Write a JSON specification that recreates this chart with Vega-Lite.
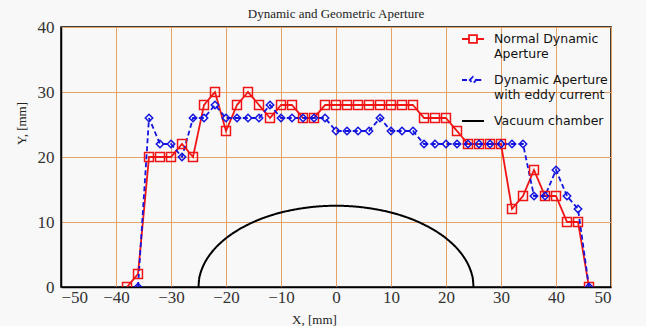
{
  "$schema": "https://vega.github.io/schema/vega-lite/v6.json",
  "width": 550,
  "height": 260,
  "autosize": "none",
  "padding": {"left": 61, "top": 27, "right": 35, "bottom": 39},
  "background": "#f8f8f8",
  "title": {"text": "Dynamic and Geometric Aperture", "font": "Liberation Serif", "fontSize": 13, "fontWeight": "normal", "color": "#222", "offset": -3, "anchor": "middle"},
  "config": {
    "view": {"stroke": "#000", "strokeWidth": 1.5, "fill": "#f8f8f8"},
    "axis": {"gridColor": "#e6a264", "gridWidth": 1, "gridOpacity": 1, "ticks": false, "domainColor": "#000", "domainWidth": 1.5, "labelFont": "Liberation Serif", "labelFontSize": 17, "labelColor": "#333", "titleFont": "Liberation Serif", "titleFontSize": 13, "titleFontWeight": "normal", "titleColor": "#222"}
  },
  "data": {"values": [
    {"series": "Normal Dynamic Aperture", "x": -38, "y": 0},
    {"series": "Normal Dynamic Aperture", "x": -36, "y": 2},
    {"series": "Normal Dynamic Aperture", "x": -34, "y": 20},
    {"series": "Normal Dynamic Aperture", "x": -32, "y": 20},
    {"series": "Normal Dynamic Aperture", "x": -30, "y": 20},
    {"series": "Normal Dynamic Aperture", "x": -28, "y": 22},
    {"series": "Normal Dynamic Aperture", "x": -26, "y": 20},
    {"series": "Normal Dynamic Aperture", "x": -24, "y": 28},
    {"series": "Normal Dynamic Aperture", "x": -22, "y": 30},
    {"series": "Normal Dynamic Aperture", "x": -20, "y": 24},
    {"series": "Normal Dynamic Aperture", "x": -18, "y": 28},
    {"series": "Normal Dynamic Aperture", "x": -16, "y": 30},
    {"series": "Normal Dynamic Aperture", "x": -14, "y": 28},
    {"series": "Normal Dynamic Aperture", "x": -12, "y": 26},
    {"series": "Normal Dynamic Aperture", "x": -10, "y": 28},
    {"series": "Normal Dynamic Aperture", "x": -8, "y": 28},
    {"series": "Normal Dynamic Aperture", "x": -6, "y": 26},
    {"series": "Normal Dynamic Aperture", "x": -4, "y": 26},
    {"series": "Normal Dynamic Aperture", "x": -2, "y": 28},
    {"series": "Normal Dynamic Aperture", "x": 0, "y": 28},
    {"series": "Normal Dynamic Aperture", "x": 2, "y": 28},
    {"series": "Normal Dynamic Aperture", "x": 4, "y": 28},
    {"series": "Normal Dynamic Aperture", "x": 6, "y": 28},
    {"series": "Normal Dynamic Aperture", "x": 8, "y": 28},
    {"series": "Normal Dynamic Aperture", "x": 10, "y": 28},
    {"series": "Normal Dynamic Aperture", "x": 12, "y": 28},
    {"series": "Normal Dynamic Aperture", "x": 14, "y": 28},
    {"series": "Normal Dynamic Aperture", "x": 16, "y": 26},
    {"series": "Normal Dynamic Aperture", "x": 18, "y": 26},
    {"series": "Normal Dynamic Aperture", "x": 20, "y": 26},
    {"series": "Normal Dynamic Aperture", "x": 22, "y": 24},
    {"series": "Normal Dynamic Aperture", "x": 24, "y": 22},
    {"series": "Normal Dynamic Aperture", "x": 26, "y": 22},
    {"series": "Normal Dynamic Aperture", "x": 28, "y": 22},
    {"series": "Normal Dynamic Aperture", "x": 30, "y": 22},
    {"series": "Normal Dynamic Aperture", "x": 32, "y": 12},
    {"series": "Normal Dynamic Aperture", "x": 34, "y": 14},
    {"series": "Normal Dynamic Aperture", "x": 36, "y": 18},
    {"series": "Normal Dynamic Aperture", "x": 38, "y": 14},
    {"series": "Normal Dynamic Aperture", "x": 40, "y": 14},
    {"series": "Normal Dynamic Aperture", "x": 42, "y": 10},
    {"series": "Normal Dynamic Aperture", "x": 44, "y": 10},
    {"series": "Normal Dynamic Aperture", "x": 46, "y": 0},
    {"series": "Dynamic Aperture with eddy current", "x": -36, "y": 0},
    {"series": "Dynamic Aperture with eddy current", "x": -34, "y": 26},
    {"series": "Dynamic Aperture with eddy current", "x": -32, "y": 22},
    {"series": "Dynamic Aperture with eddy current", "x": -30, "y": 22},
    {"series": "Dynamic Aperture with eddy current", "x": -28, "y": 20},
    {"series": "Dynamic Aperture with eddy current", "x": -26, "y": 26},
    {"series": "Dynamic Aperture with eddy current", "x": -24, "y": 26},
    {"series": "Dynamic Aperture with eddy current", "x": -22, "y": 28},
    {"series": "Dynamic Aperture with eddy current", "x": -20, "y": 26},
    {"series": "Dynamic Aperture with eddy current", "x": -18, "y": 26},
    {"series": "Dynamic Aperture with eddy current", "x": -16, "y": 26},
    {"series": "Dynamic Aperture with eddy current", "x": -14, "y": 26},
    {"series": "Dynamic Aperture with eddy current", "x": -12, "y": 28},
    {"series": "Dynamic Aperture with eddy current", "x": -10, "y": 26},
    {"series": "Dynamic Aperture with eddy current", "x": -8, "y": 26},
    {"series": "Dynamic Aperture with eddy current", "x": -6, "y": 26},
    {"series": "Dynamic Aperture with eddy current", "x": -4, "y": 26},
    {"series": "Dynamic Aperture with eddy current", "x": -2, "y": 26},
    {"series": "Dynamic Aperture with eddy current", "x": 0, "y": 24},
    {"series": "Dynamic Aperture with eddy current", "x": 2, "y": 24},
    {"series": "Dynamic Aperture with eddy current", "x": 4, "y": 24},
    {"series": "Dynamic Aperture with eddy current", "x": 6, "y": 24},
    {"series": "Dynamic Aperture with eddy current", "x": 8, "y": 26},
    {"series": "Dynamic Aperture with eddy current", "x": 10, "y": 24},
    {"series": "Dynamic Aperture with eddy current", "x": 12, "y": 24},
    {"series": "Dynamic Aperture with eddy current", "x": 14, "y": 24},
    {"series": "Dynamic Aperture with eddy current", "x": 16, "y": 22},
    {"series": "Dynamic Aperture with eddy current", "x": 18, "y": 22},
    {"series": "Dynamic Aperture with eddy current", "x": 20, "y": 22},
    {"series": "Dynamic Aperture with eddy current", "x": 22, "y": 22},
    {"series": "Dynamic Aperture with eddy current", "x": 24, "y": 22},
    {"series": "Dynamic Aperture with eddy current", "x": 26, "y": 22},
    {"series": "Dynamic Aperture with eddy current", "x": 28, "y": 22},
    {"series": "Dynamic Aperture with eddy current", "x": 30, "y": 22},
    {"series": "Dynamic Aperture with eddy current", "x": 32, "y": 22},
    {"series": "Dynamic Aperture with eddy current", "x": 34, "y": 22},
    {"series": "Dynamic Aperture with eddy current", "x": 36, "y": 14},
    {"series": "Dynamic Aperture with eddy current", "x": 38, "y": 14},
    {"series": "Dynamic Aperture with eddy current", "x": 40, "y": 18},
    {"series": "Dynamic Aperture with eddy current", "x": 42, "y": 14},
    {"series": "Dynamic Aperture with eddy current", "x": 44, "y": 12},
    {"series": "Dynamic Aperture with eddy current", "x": 46, "y": 0},
    {"series": "Vacuum chamber", "x": -25, "y": 0},
    {"series": "Vacuum chamber", "x": -24.9, "y": 1.12},
    {"series": "Vacuum chamber", "x": -24.7, "y": 1.94},
    {"series": "Vacuum chamber", "x": -24.4, "y": 2.72},
    {"series": "Vacuum chamber", "x": -24, "y": 3.5},
    {"series": "Vacuum chamber", "x": -23, "y": 4.9},
    {"series": "Vacuum chamber", "x": -22, "y": 5.94},
    {"series": "Vacuum chamber", "x": -21, "y": 6.78},
    {"series": "Vacuum chamber", "x": -20, "y": 7.5},
    {"series": "Vacuum chamber", "x": -18, "y": 8.67},
    {"series": "Vacuum chamber", "x": -16, "y": 9.6},
    {"series": "Vacuum chamber", "x": -14, "y": 10.36},
    {"series": "Vacuum chamber", "x": -12, "y": 10.97},
    {"series": "Vacuum chamber", "x": -10, "y": 11.46},
    {"series": "Vacuum chamber", "x": -8, "y": 11.84},
    {"series": "Vacuum chamber", "x": -6, "y": 12.13},
    {"series": "Vacuum chamber", "x": -4, "y": 12.34},
    {"series": "Vacuum chamber", "x": -2, "y": 12.46},
    {"series": "Vacuum chamber", "x": 0, "y": 12.5},
    {"series": "Vacuum chamber", "x": 2, "y": 12.46},
    {"series": "Vacuum chamber", "x": 4, "y": 12.34},
    {"series": "Vacuum chamber", "x": 6, "y": 12.13},
    {"series": "Vacuum chamber", "x": 8, "y": 11.84},
    {"series": "Vacuum chamber", "x": 10, "y": 11.46},
    {"series": "Vacuum chamber", "x": 12, "y": 10.97},
    {"series": "Vacuum chamber", "x": 14, "y": 10.36},
    {"series": "Vacuum chamber", "x": 16, "y": 9.6},
    {"series": "Vacuum chamber", "x": 18, "y": 8.67},
    {"series": "Vacuum chamber", "x": 20, "y": 7.5},
    {"series": "Vacuum chamber", "x": 21, "y": 6.78},
    {"series": "Vacuum chamber", "x": 22, "y": 5.94},
    {"series": "Vacuum chamber", "x": 23, "y": 4.9},
    {"series": "Vacuum chamber", "x": 24, "y": 3.5},
    {"series": "Vacuum chamber", "x": 24.4, "y": 2.72},
    {"series": "Vacuum chamber", "x": 24.7, "y": 1.94},
    {"series": "Vacuum chamber", "x": 24.9, "y": 1.12},
    {"series": "Vacuum chamber", "x": 25, "y": 0}
  ]},
  "encoding": {
    "x": {"field": "x", "type": "quantitative", "scale": {"domain": [-50, 50], "nice": false}, "axis": {"values": [-50, -40, -30, -20, -10, 0, 10, 20, 30, 40, 50], "title": "X, [mm]", "labelPadding": 2, "titleX": 253, "titleY": 32, "titleBaseline": "middle", "titleAnchor": null}},
    "y": {"field": "y", "type": "quantitative", "scale": {"domain": [0, 40], "nice": false}, "axis": {"values": [0, 10, 20, 30, 40], "title": "Y, [mm]", "labelPadding": 7, "titleX": -40, "titleY": 96, "titleBaseline": "middle", "titleAngle": -90}}
  },
  "layer": [
    {
      "transform": [{"filter": "datum.series == 'Vacuum chamber'"}],
      "mark": {"type": "line", "interpolate": "monotone", "strokeWidth": 2, "clip": true},
      "encoding": {
        "color": {"field": "series", "type": "nominal", "scale": {"domain": ["Normal Dynamic Aperture", "Dynamic Aperture with eddy current", "Vacuum chamber"], "range": ["#f01414", "#1414e0", "#000000"]}},
        "strokeDash": {"field": "series", "type": "nominal", "scale": {"domain": ["Normal Dynamic Aperture", "Dynamic Aperture with eddy current", "Vacuum chamber"], "range": [[1, 0], [5, 3], [1, 0]]}}
      }
    },
    {
      "transform": [{"filter": "datum.series != 'Vacuum chamber'"}],
      "mark": {"type": "line", "strokeWidth": 1.8, "clip": true},
      "encoding": {
        "color": {"field": "series", "type": "nominal"},
        "strokeDash": {"field": "series", "type": "nominal"}
      }
    },
    {
      "transform": [{"filter": "datum.series == 'Normal Dynamic Aperture'"}],
      "mark": {"type": "point", "shape": "square", "filled": false, "size": 80, "strokeWidth": 1.5, "clip": true, "opacity": 1},
      "encoding": {"color": {"field": "series", "type": "nominal"}}
    },
    {
      "transform": [{"filter": "datum.series == 'Dynamic Aperture with eddy current'"}],
      "mark": {"type": "point", "shape": "diamond", "filled": false, "size": 55, "strokeWidth": 1.5, "clip": true, "opacity": 1},
      "encoding": {"color": {"field": "series", "type": "nominal"}}
    },
    {
      "transform": [{"filter": "datum.x > 1000"}],
      "mark": {"type": "point", "filled": false, "opacity": 1},
      "encoding": {
        "color": {"field": "series", "type": "nominal"},
        "strokeDash": {"field": "series", "type": "nominal"},
        "shape": {"field": "series", "type": "nominal", "scale": {"domain": ["Normal Dynamic Aperture", "Dynamic Aperture with eddy current", "Vacuum chamber"], "range": ["M-1,0H-0.36M0.36,0H1M-0.36,-0.36H0.36V0.36H-0.36Z", "M-1,0H-0.3M0.3,0H1M-0.3,0L0,-0.3L0.3,0L0,0.3Z", "M-1,0H1"]},
          "legend": {"title": null, "orient": "none", "legendX": 400, "legendY": 0, "padding": 0, "symbolSize": 484, "symbolStrokeWidth": 1.8, "labelFont": "DejaVu Sans", "labelFontSize": 12.5, "labelColor": "#111", "labelOffset": 9, "labelLimit": 250, "rowPadding": 8,
            "labelExpr": "datum.label == 'Normal Dynamic Aperture' ? ['Normal Dynamic', 'Aperture'] : datum.label == 'Dynamic Aperture with eddy current' ? ['Dynamic Aperture', 'with eddy current'] : datum.label"}
        }
      }
    }
  ]
}
